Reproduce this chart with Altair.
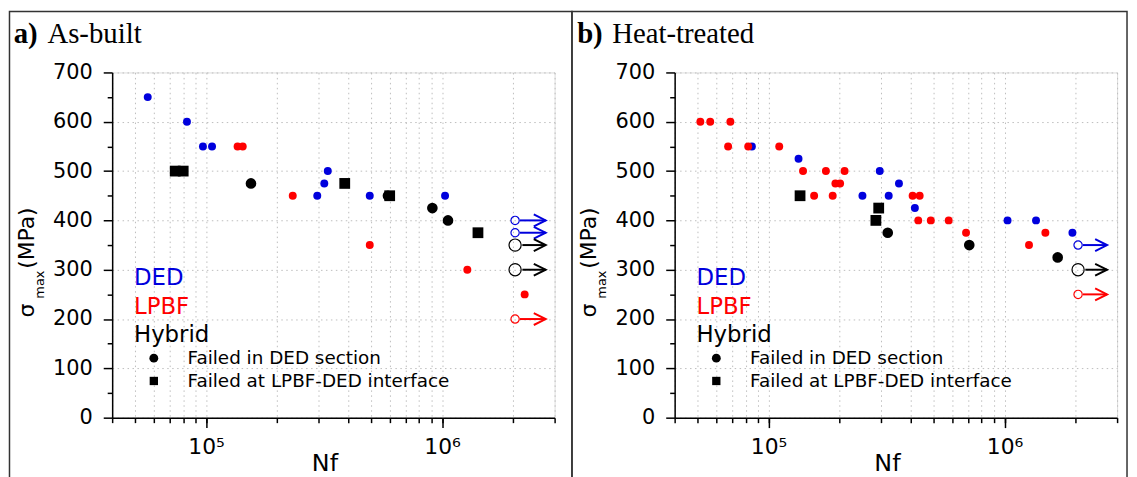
import altair as alt
import pandas as pd

# ---------------- data : (a) As-built ----------------
AB_DED_NF = [5.66e4, 8.3e4, 9.7e4, 1.06e5, 2.96e5, 3.17e5, 3.28e5, 4.94e5, 1.03e6]
AB_DED_S = [650, 600, 550, 550, 450, 475, 500, 450, 450]
AB_LPBF_NF = [1.36e5, 1.43e5, 2.33e5, 4.94e5, 1.28e6, 2.24e6]
AB_LPBF_S = [550, 550, 450, 350, 300, 250]
AB_HYB_DED_NF = [1.55e5, 5.9e5, 9.1e5, 1.06e6]
AB_HYB_DED_S = [475, 450, 425, 400]
AB_HYB_INT_NF = [7.4e4, 8.0e4, 3.87e5, 6.0e5, 1.42e6]
AB_HYB_INT_S = [500, 500, 475, 450, 375]
AB_RUN_NF = [2.04e6, 2.04e6, 2.04e6, 2.04e6, 2.04e6]
AB_RUN_S = [400, 375, 350, 300, 200]
AB_RUN_GROUP = ["DED", "DED", "Hybrid", "Hybrid", "LPBF"]
AB_ARROW_FROM = [2.14e6, 2.14e6, 2.19e6, 2.19e6, 2.14e6]
AB_ARROW_TO = [2.75e6, 2.75e6, 2.75e6, 2.75e6, 2.75e6]

# ---------------- data : (b) Heat-treated ----------------
HT_DED_NF = [8.5e4, 1.34e5, 2.96e5, 3.57e5, 2.5e5, 3.23e5, 4.17e5, 1.03e6, 1.36e6, 1.94e6]
HT_DED_S = [550, 525, 500, 475, 450, 450, 425, 400, 400, 375]
HT_LPBF_NF = [5.14e4, 5.66e4, 6.89e4, 6.74e4, 8.2e4, 1.11e5, 1.40e5, 1.75e5, 2.1e5,
              1.92e5, 2.01e5, 1.56e5, 1.87e5, 4.08e5, 4.37e5, 4.31e5, 4.87e5, 5.8e5,
              6.87e5, 1.27e6, 1.49e6]
HT_LPBF_S = [600, 600, 600, 550, 550, 550, 500, 500, 500,
             475, 475, 450, 450, 450, 450, 400, 400, 400,
             375, 350, 375]
HT_HYB_DED_NF = [3.2e5, 7.09e5, 1.68e6]
HT_HYB_DED_S = [375, 350, 325]
HT_HYB_INT_NF = [1.36e5, 2.93e5, 2.85e5]
HT_HYB_INT_S = [450, 425, 400]
HT_RUN_NF = [2.05e6, 2.05e6, 2.05e6]
HT_RUN_S = [350, 300, 250]
HT_RUN_GROUP = ["DED", "Hybrid", "LPBF"]
HT_ARROW_FROM = [2.15e6, 2.2e6, 2.15e6]
HT_ARROW_TO = [2.72e6, 2.72e6, 2.72e6]

# ---------------- labels ----------------
GROUPS = ["DED", "LPBF", "Hybrid"]
SYMBOL_LABELS = ["Failed in DED section", "Failed at LPBF-DED interface"]
PANEL_TAGS = ["a)", "b)"]
PANEL_NAMES = ["As-built", "Heat-treated"]
X_TITLE = "Nf"
X_MINOR = [4e4, 5e4, 6e4, 7e4, 8e4, 9e4, 1e5, 2e5, 3e5, 4e5, 5e5, 6e5, 7e5, 8e5, 9e5,
           1e6, 2e6, 3e6]
X_MAJOR = [1e5, 1e6]
Y_MAJOR = [0, 100, 200, 300, 400, 500, 600, 700]
Y_MINOR = [50, 150, 250, 350, 450, 550, 650]

BLUE = "#0000dd"
RED = "#ff0000"
BLACK = "#000000"
FONT = "DejaVu Sans"
SERIF = "Liberation Serif"
CHEVRON = "M-1,-0.5L0,0L-1,0.5"

W, H = 446, 348
XS = alt.Scale(type="log", domain=[4e4, 3e6], nice=False)
YS = alt.Scale(domain=[0, 700], nice=False, zero=False)
CS = alt.Scale(domain=GROUPS, range=[BLUE, RED, BLACK])
ONE = pd.DataFrame({"k": [0]})

GRID_COLOR = "#bdbdbd"
GRID_DASH = [1.5, 3.5]

ax_x_minor = alt.Axis(values=X_MINOR, orient="bottom", labels=False, tickSize=5,
                      tickWidth=1.5, tickColor=BLACK, grid=True, gridColor=GRID_COLOR,
                      gridDash=GRID_DASH, gridWidth=1, domain=True, domainColor=BLACK,
                      domainWidth=1.5, title=None)
ax_x_major = alt.Axis(values=X_MAJOR, orient="bottom", tickSize=10, tickWidth=1.5,
                      tickColor=BLACK, grid=False, domain=False,
                      labelExpr="datum.value >= 999999 ? '10\u2076' : '10\u2075'",
                      labelFontSize=22, labelPadding=9, labelFont=FONT,
                      labelColor=BLACK, labelFlush=False, labelOverlap=False,
                      title=X_TITLE, titleFontSize=24, titleFont=FONT,
                      titleFontWeight="normal", titleColor=BLACK, titleX=214,
                      titleY=53, titleBaseline="alphabetic")
ax_y_major = alt.Axis(values=Y_MAJOR, orient="left", tickSize=9, tickWidth=1.5,
                      tickColor=BLACK, grid=True, gridColor=GRID_COLOR,
                      gridDash=GRID_DASH, gridWidth=1, domain=True, domainColor=BLACK,
                      domainWidth=1.5, labelFontSize=21, labelFont=FONT,
                      labelColor=BLACK, labelPadding=11, labelOverlap=False,
                      title=None)
ax_y_minor = alt.Axis(values=Y_MINOR, orient="left", labels=False, tickSize=5,
                      tickWidth=1.5, tickColor=BLACK, grid=False, domain=False,
                      title=None)


def pts(nf, s, group):
    return pd.DataFrame({"Nf": nf, "S": s, "Group": [group] * len(nf)})


def text(t, x, y, size, color=BLACK, font=FONT, weight="normal", angle=0,
         align="left", baseline="alphabetic"):
    return alt.Chart(ONE).mark_text(
        text=t, fontSize=size, font=font, fontWeight=weight, color=color,
        align=align, baseline=baseline, angle=angle
    ).encode(x=alt.value(x), y=alt.value(y))


def panel(i, ded_nf, ded_s, lp_nf, lp_s, hc_nf, hc_s, hs_nf, hs_s,
          run_nf, run_s, run_g, a_from, a_to, tag_x, name_x, frame_x2):
    colored = pd.concat([pts(ded_nf, ded_s, "DED"), pts(lp_nf, lp_s, "LPBF")])
    run = pd.DataFrame({"Nf": run_nf, "S": run_s, "Group": run_g,
                        "From": a_from, "To": a_to})
    run_small = run[run["Group"] != "Hybrid"]
    run_big = run[run["Group"] == "Hybrid"]

    dots = alt.Chart(colored).mark_circle(size=64, opacity=1).encode(
        x=alt.X("Nf:Q", scale=XS, axis=ax_x_minor),
        y=alt.Y("S:Q", scale=YS, axis=ax_y_major),
        color=alt.Color("Group:N", scale=CS, legend=None))
    hyb_c = alt.Chart(pts(hc_nf, hc_s, "Hybrid")).mark_circle(
        size=115, opacity=1, color=BLACK).encode(
        x=alt.X("Nf:Q", scale=XS, axis=ax_x_major),
        y=alt.Y("S:Q", scale=YS, axis=ax_y_minor))
    hyb_s = alt.Chart(pts(hs_nf, hs_s, "Hybrid")).mark_square(
        size=118, opacity=1, color=BLACK).encode(
        x=alt.X("Nf:Q", scale=XS, axis=None),
        y=alt.Y("S:Q", scale=YS, axis=None))
    open_small = alt.Chart(run_small).mark_point(
        shape="circle", filled=False, size=70, strokeWidth=1.2, opacity=1).encode(
        x=alt.X("Nf:Q", scale=XS, axis=None),
        y=alt.Y("S:Q", scale=YS, axis=None),
        color=alt.Color("Group:N", scale=CS, legend=None))
    open_big = alt.Chart(run_big).mark_point(
        shape="circle", filled=False, size=150, strokeWidth=1.2, opacity=1).encode(
        x=alt.X("Nf:Q", scale=XS, axis=None),
        y=alt.Y("S:Q", scale=YS, axis=None),
        color=alt.Color("Group:N", scale=CS, legend=None))
    shafts = alt.Chart(run).mark_rule(strokeWidth=2).encode(
        x=alt.X("From:Q", scale=XS, axis=None),
        x2="To:Q",
        y=alt.Y("S:Q", scale=YS, axis=None),
        color=alt.Color("Group:N", scale=CS, legend=None))
    heads = alt.Chart(run).mark_point(
        shape=CHEVRON, filled=False, size=576, strokeWidth=2, opacity=1).encode(
        x=alt.X("To:Q", scale=XS, axis=None),
        y=alt.Y("S:Q", scale=YS, axis=None),
        color=alt.Color("Group:N", scale=CS, legend=None))

    legend = [
        text(GROUPS[0], 22, 214.5, 23, BLUE),
        text(GROUPS[1], 22, 243, 23, RED),
        text(GROUPS[2], 22, 271.5, 23, BLACK),
        alt.Chart(ONE).mark_point(shape="circle", filled=True, size=80, color=BLACK,
                                  opacity=1).encode(x=alt.value(42), y=alt.value(288)),
        alt.Chart(ONE).mark_point(shape="square", filled=True, size=70, color=BLACK,
                                  opacity=1).encode(x=alt.value(42), y=alt.value(311)),
        text(SYMBOL_LABELS[0], 76, 294, 18.5),
        text(SYMBOL_LABELS[1], 76, 317.5, 18.5),
    ]
    ytitle = [
        text("\u03c3", -79, 247, 22, angle=270),
        text("max", -69, 228, 13, angle=270),
        text("(MPa)", -79, 198, 22, angle=270),
    ]
    ptitle = [
        text(PANEL_TAGS[i], tag_x, -30, 29, font=SERIF, weight="bold"),
        text(PANEL_NAMES[i], name_x, -30, 29, font=SERIF),
    ]
    frame = alt.Chart(ONE).mark_rect(fillOpacity=0, stroke="#333333",
                                     strokeWidth=1.5).encode(
        x=alt.value(-103.5), x2=alt.value(frame_x2),
        y=alt.value(-61.5), y2=alt.value(425))

    return alt.layer(dots, hyb_c, hyb_s, open_small, open_big, shafts, heads,
                     *legend, *ytitle, *ptitle, frame).resolve_axis(
        x="independent", y="independent").properties(width=W, height=H)


left = panel(0, AB_DED_NF, AB_DED_S, AB_LPBF_NF, AB_LPBF_S, AB_HYB_DED_NF,
             AB_HYB_DED_S, AB_HYB_INT_NF, AB_HYB_INT_S, AB_RUN_NF, AB_RUN_S,
             AB_RUN_GROUP, AB_ARROW_FROM, AB_ARROW_TO, -99.3, -65.3, 463.5)
right = panel(1, HT_DED_NF, HT_DED_S, HT_LPBF_NF, HT_LPBF_S, HT_HYB_DED_NF,
              HT_HYB_DED_S, HT_HYB_INT_NF, HT_HYB_INT_S, HT_RUN_NF, HT_RUN_S,
              HT_RUN_GROUP, HT_ARROW_FROM, HT_ARROW_TO, -98.3, -63, 456)

chart = alt.hconcat(left, right, spacing=121, bounds="flush").properties(
    padding=0, background="white"
).configure_view(stroke=BLACK, strokeWidth=1.5).configure(font=FONT)

chart.save("out.html", embed_options={"renderer": "svg", "actions": False})
